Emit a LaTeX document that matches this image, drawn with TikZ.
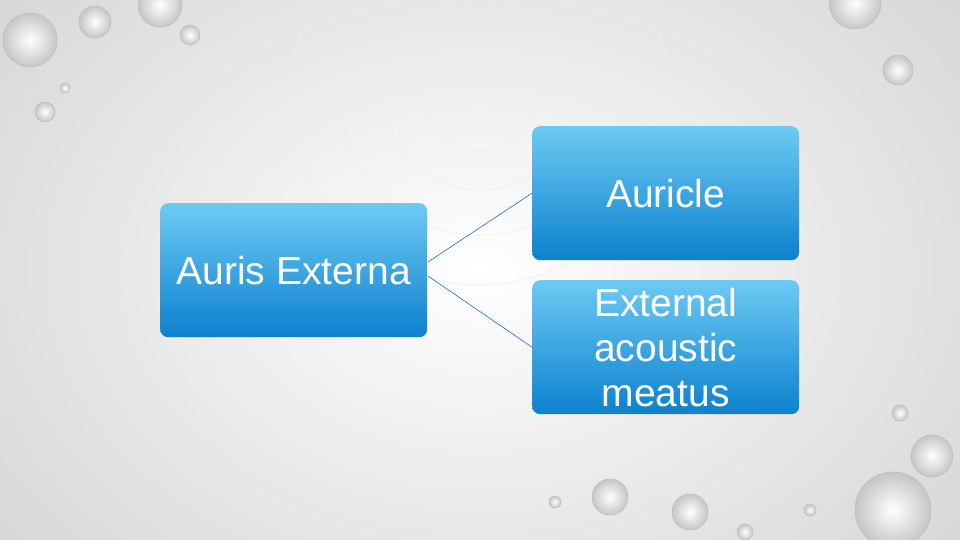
\documentclass[tikz,border=0pt]{standalone}
\usepackage{fontspec}
\setmainfont{Liberation Sans}
\begin{document}
\begin{tikzpicture}[x=1pt,y=-1pt,
  bx/.style={rounded corners=8pt,top color=blue!30!cyan!55!white!95!black,bottom color=blue!40!cyan!80!black!95,
    draw=none,minimum width=267pt,minimum height=134pt,anchor=north west,text=white,font=\fontsize{39}{45}\selectfont,align=center,inner sep=0pt},
  conn/.style={draw=blue!60!cyan!80!black,line width=0.5pt},
  drop/.style={inner color=white,outer color=gray!45,draw=gray!50,line width=0.6pt}]
\useasboundingbox (0,0) rectangle (960,540);
\shade[inner color=white,outer color=gray!40] (-300,-300) rectangle (1260,840);
\foreach \r in {55,95,140,190} \draw[white!85!gray,line width=0.6pt] (480,95) circle (\r);
\foreach \x/\y/\r in {30/40/27,95/22/16,160/5/22,190/35/10,65/88/5,45/112/10,855/3/26,898/70/15,900/413/8,932/456/21,893/510/38,610/497/18,690/512/18,555/502/6,810/510/6,745/532/8}
  \shade[drop] (\x,\y) circle (\r);
\node[bx] (ae) at (160,203) {Auris Externa};
\node[bx] (au) at (532,126) {Auricle};
\node[bx] (eam) at (532,280) {External\\acoustic\\meatus};
\coordinate (s1) at (428,262);
\coordinate (s2) at (428,276);
\draw[conn] (s1) -- (au.west);
\draw[conn] (s2) -- (eam.west);
\end{tikzpicture}
\end{document}
